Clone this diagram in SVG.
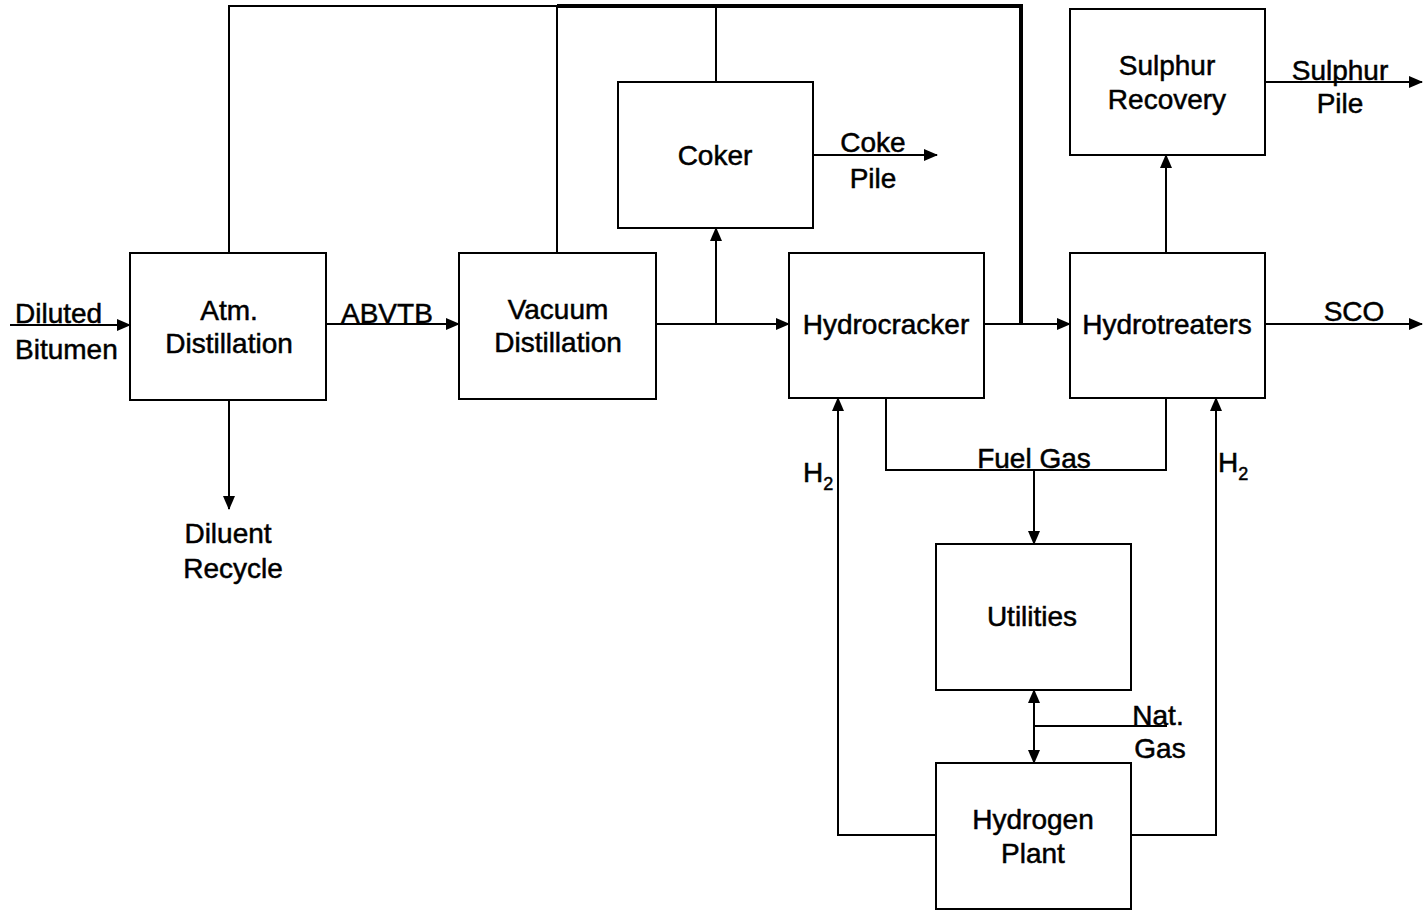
<svg xmlns="http://www.w3.org/2000/svg" width="1427" height="911" viewBox="0 0 1427 911">
<defs>
<style>
.box{fill:#fff;stroke:#000;stroke-width:2}
.ln{fill:none;stroke:#000;stroke-width:2}
.thick{fill:none;stroke:#000;stroke-width:4}
text{font-family:"Liberation Sans",Arial,sans-serif;font-size:28px;fill:#000;stroke:#000;stroke-width:0.5}
.c{text-anchor:middle}
.sub{font-size:18px}
</style>
<marker id="ah" markerUnits="userSpaceOnUse" markerWidth="14" markerHeight="12" refX="13" refY="6" orient="auto">
<path d="M0,0 L14,6 L0,12 Z" fill="#000"/>
</marker>
<marker id="as" markerUnits="userSpaceOnUse" markerWidth="14" markerHeight="12" refX="1" refY="6" orient="auto">
<path d="M14,0 L0,6 L14,12 Z" fill="#000"/>
</marker>
</defs>
<rect width="1427" height="911" fill="#fff"/>
<g id="connectors">
<path class="ln" d="M229,253 V6 H557"/>
<path class="ln" d="M557,253 V6"/>
<path class="ln" d="M716,82 V6"/>
<path class="thick" d="M557,6 H1021 V324"/>
<path class="ln" d="M10,325 H130" marker-end="url(#ah)"/>
<path class="ln" d="M326,324 H459" marker-end="url(#ah)"/>
<path class="ln" d="M229,400 V509" marker-end="url(#ah)"/>
<path class="ln" d="M656,324 H789" marker-end="url(#ah)"/>
<path class="ln" d="M716,324 V228" marker-end="url(#ah)"/>
<path class="ln" d="M813,155 H937" marker-end="url(#ah)"/>
<path class="ln" d="M984,324 H1070" marker-end="url(#ah)"/>
<path class="ln" d="M1166,253 V155" marker-end="url(#ah)"/>
<path class="ln" d="M1265,82 H1422" marker-end="url(#ah)"/>
<path class="ln" d="M1265,324 H1422" marker-end="url(#ah)"/>
<path class="ln" d="M886,398 V470 H1166 V398"/>
<path class="ln" d="M1034,470 V544" marker-end="url(#ah)"/>
<path class="ln" d="M936,835 H838 V398" marker-end="url(#ah)"/>
<path class="ln" d="M1131,835 H1216 V398" marker-end="url(#ah)"/>
<path class="ln" d="M1034,690 V763" marker-start="url(#as)" marker-end="url(#ah)"/>
<path class="ln" d="M1034,726 H1167"/>
<text x="15" y="323">Diluted</text>
<text x="15" y="359">Bitumen</text>
<text x="341" y="323">ABVTB</text>
<text class="c" x="228" y="543">Diluent</text>
<text class="c" x="233" y="578">Recycle</text>
<text class="c" x="873" y="152">Coke</text>
<text class="c" x="873" y="188">Pile</text>
<text class="c" x="1340" y="80">Sulphur</text>
<text class="c" x="1340" y="113">Pile</text>
<text class="c" x="1354" y="321">SCO</text>
<text class="c" x="1034" y="468">Fuel Gas</text>
<text class="c" x="1158" y="725">Nat.</text>
<text class="c" x="1160" y="758">Gas</text>
<text x="803" y="482">H<tspan class="sub" dy="8">2</tspan></text>
<text x="1218" y="472">H<tspan class="sub" dy="8">2</tspan></text>
</g>
<g id="atm">
<rect class="box" x="130" y="253" width="196" height="147"/>
<text class="c" x="229" y="320">Atm.</text>
<text class="c" x="229" y="353">Distillation</text>
</g>
<g id="vacuum">
<rect class="box" x="459" y="253" width="197" height="146"/>
<text class="c" x="558" y="319">Vacuum</text>
<text class="c" x="558" y="352">Distillation</text>
</g>
<g id="coker">
<rect class="box" x="618" y="82" width="195" height="146"/>
<text class="c" x="715" y="165">Coker</text>
</g>
<g id="hydrocracker">
<rect class="box" x="789" y="253" width="195" height="145"/>
<text class="c" x="886" y="334">Hydrocracker</text>
</g>
<g id="hydrotreaters">
<rect class="box" x="1070" y="253" width="195" height="145"/>
<text class="c" x="1167" y="334">Hydrotreaters</text>
</g>
<g id="sulphur">
<rect class="box" x="1070" y="9" width="195" height="146"/>
<text class="c" x="1167" y="75">Sulphur</text>
<text class="c" x="1167" y="109">Recovery</text>
</g>
<g id="utilities">
<rect class="box" x="936" y="544" width="195" height="146"/>
<text class="c" x="1032" y="626">Utilities</text>
</g>
<g id="hydrogen">
<rect class="box" x="936" y="763" width="195" height="146"/>
<text class="c" x="1033" y="829">Hydrogen</text>
<text class="c" x="1033" y="863">Plant</text>
</g>
</svg>
